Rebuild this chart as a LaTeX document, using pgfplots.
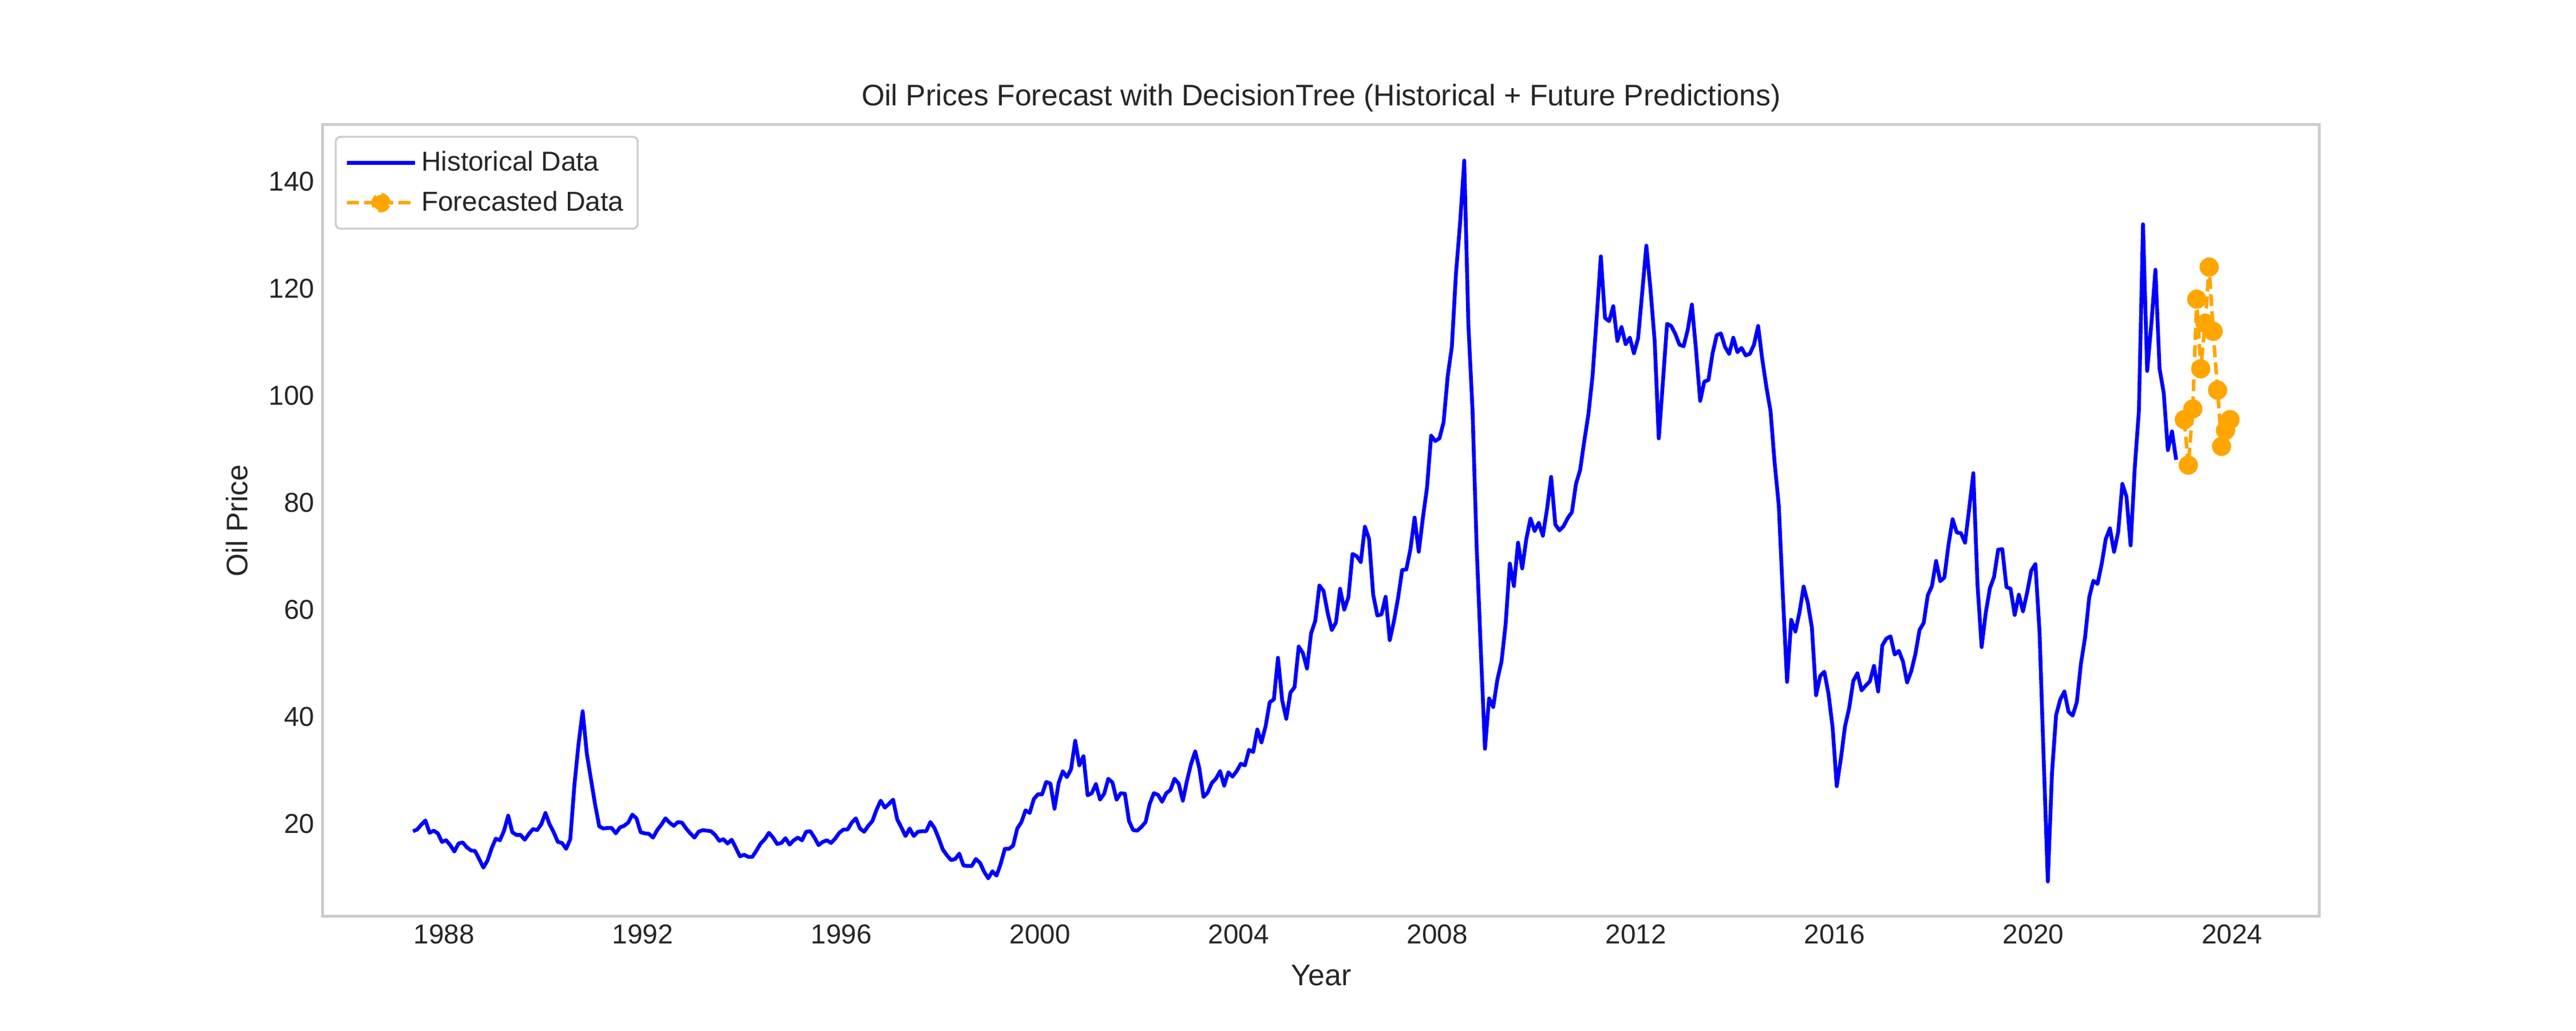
\documentclass[border=0pt]{standalone}
\usepackage{fontspec}
\setmainfont{Liberation Sans}
\usepackage{pgfplots}
\usepackage{pgfplotstable}
\pgfplotsset{compat=1.18}
\definecolor{spine}{HTML}{CCCCCC}
\definecolor{txt}{HTML}{262626}
\definecolor{orng}{HTML}{FFA500}
% Monthly Brent values from May 1987 (extreme months replaced by their extremes)
\pgfplotstableread{
y
18.6
18.9
19.8
20.6
18.3
18.7
18.2
16.6
16.9
16.0
14.8
16.3
16.5
15.6
15.0
14.9
13.4
11.8
13.1
15.4
17.2
16.9
18.7
21.5
18.4
17.9
17.9
17.0
18.1
19.0
18.8
19.9
22.0
19.9
18.4
16.6
16.4
15.3
17.1
27.2
34.9
41.0
33.1
28.3
23.6
19.5
19.1
19.2
19.2
18.2
19.3
19.6
20.2
21.7
21.0
18.4
18.2
18.1
17.4
18.8
19.8
21.0
20.2
19.6
20.3
20.2
19.1
18.2
17.4
18.5
18.8
18.7
18.6
17.9
16.8
17.1
16.3
17.0
15.5
13.9
14.2
13.8
13.8
15.0
16.3
17.1
18.3
17.4
16.2
16.4
17.3
16.1
16.9
17.4
16.9
18.5
18.6
17.4
16.0
16.6
16.9
16.4
17.2
18.3
18.9
18.9
20.2
21.0
19.1
18.5
19.6
20.5
22.6
24.3
23.0
23.7
24.5
20.8
19.3
17.7
19.1
17.7
18.5
18.6
18.6
20.3
19.2
17.3
15.2
14.1
13.2
13.4
14.4
12.2
12.1
12.1
13.4
12.7
11.0
9.8
11.1
10.3
12.5
15.3
15.3
15.9
19.1
20.3
22.5
22.0
24.6
25.5
25.5
27.8
27.5
22.8
27.6
29.8
28.7
30.2
35.5
30.9
32.6
25.3
25.7
27.4
24.5
25.6
28.4
27.7
24.5
25.7
25.6
20.5
18.8
18.7
19.4
20.3
23.7
25.7
25.4
24.1
25.7
26.3
28.4
27.5
24.3
28.0
31.2
33.5
30.3
25.0
25.8
27.6
28.4
29.8
27.1
29.6
28.8
29.8
31.2
30.9
33.8
33.4
37.6
35.2
38.2
42.7
43.2
51.0
43.1
39.6
44.5
45.5
53.1
51.9
49.0
55.6
57.9
64.5
63.5
59.4
56.2
57.6
63.9
60.0
62.3
70.4
70.0
68.9
75.5
73.2
62.8
58.9
59.1
62.4
54.3
57.8
62.1
67.4
67.5
71.3
77.2
70.8
77.1
82.8
92.5
91.5
92.0
95.0
103.6
109.1
122.8
132.3
143.9
113.2
97.2
71.6
52.5
34.0
43.4
41.8
46.9
50.3
57.3
68.6
64.4
72.5
67.7
73.2
77.0
74.7
76.2
73.8
78.8
84.8
75.9
74.8
75.6
77.1
78.2
83.5
86.1
91.5
96.5
103.7
114.6
126.0
114.5
113.9
116.7
110.2
112.8
109.6
110.8
107.9
110.7
119.3
128.0
119.8
110.3
92.0
102.6
113.4
113.0
111.5
109.5
109.2
112.3
117.0
108.5
99.0
102.6
102.9
107.9
111.3
111.6
109.1
107.8
110.8
108.1
108.9
107.5
107.8
109.5
113.0
106.8
101.6
97.1
87.4
79.4
62.3
46.5
58.1
55.9
59.5
64.3
61.3
56.6
44.0
47.6
48.4
44.3
38.0
27.0
32.2
38.2
41.6
46.7
48.1
44.9
45.8
46.6
49.5
44.7
53.3
54.6
55.0
51.6
52.3
50.3
46.4
48.5
51.7
56.2
57.5
62.7
64.4
69.1
65.3
66.0
72.1
76.9
74.4
74.3
72.5
78.9
85.5
64.8
53.0
59.4
64.0
66.1
71.2
71.3
64.2
63.9
59.0
62.8
59.7
63.2
67.3
68.5
55.7
32.0
9.2
29.4
40.3
43.2
44.7
40.9
40.2
42.7
49.9
54.8
62.3
65.4
64.8
68.5
73.2
75.2
70.8
74.5
83.5
81.1
72.0
86.5
97.1
132.0
104.6
113.3
123.5
105.0
100.5
89.8
93.3
88.0
}\hist
\pgfplotstableread{
x y
2023.04 95.5
2023.12 87.0
2023.21 97.5
2023.29 118.0
2023.37 105.0
2023.46 113.5
2023.54 124.0
2023.62 112.0
2023.71 101.0
2023.79 90.5
2023.87 93.5
2023.96 95.5
}\fc
\begin{document}
\begin{tikzpicture}
\useasboundingbox (0,0) rectangle (38.1cm,15.24cm);
\begin{axis}[
  at={(4.775cm,1.685cm)}, anchor=south west,
  scale only axis, width=29.53cm, height=11.71cm,
  xmin=1985.56, xmax=2025.76, ymin=2.66, ymax=150.6,
  xtick={1988,1992,...,2024}, ytick={20,40,...,140},
  xticklabel style={/pgf/number format/1000 sep={}},
  /pgf/number format/assume math mode=true,
  major tick length=0pt,
  axis line style={spine, line width=1.2pt},
  tick label style={font=\fontsize{11.5}{13}\selectfont, text=txt},
  label style={font=\fontsize{12.5}{14}\selectfont, text=txt},
  xlabel={Year}, ylabel={Oil Price},
  xlabel style={yshift=-2pt}, ylabel style={yshift=2pt},
  title={Oil Prices Forecast with DecisionTree (Historical + Future Predictions)},
  title style={font=\fontsize{12.5}{14}\selectfont, text=txt, yshift=-4pt},
  legend style={font=\fontsize{11.5}{13}\selectfont, text=txt, draw=spine, rounded corners=2pt, line width=0.8pt, inner sep=4pt, row sep=3pt, at={(0.006,0.986)}, anchor=north west},
  legend cell align=left,
]
\addplot[blue, line width=1.6pt, line join=round, legend image code/.code={\draw[blue, line width=1.6pt] (0cm,0cm) -- (1.0cm,0cm);}] table[x expr={1987.375+\coordindex/12}, y=y] {\hist};
\addlegendentry{Historical Data}
\addplot[orng, line width=1.5pt, dashed, dash pattern=on 5pt off 2.2pt, mark=*, mark size=3.3pt, mark options={solid, fill=orng, draw=orng},
  legend image code/.code={\draw[orng, line width=1.5pt, dash pattern=on 5pt off 2.2pt] (0cm,0cm) -- (1.0cm,0cm); \fill[orng] (0.5cm,0cm) circle (3.3pt);}] table[x=x, y=y] {\fc};
\addlegendentry{Forecasted Data}
\end{axis}
\end{tikzpicture}
\end{document}
